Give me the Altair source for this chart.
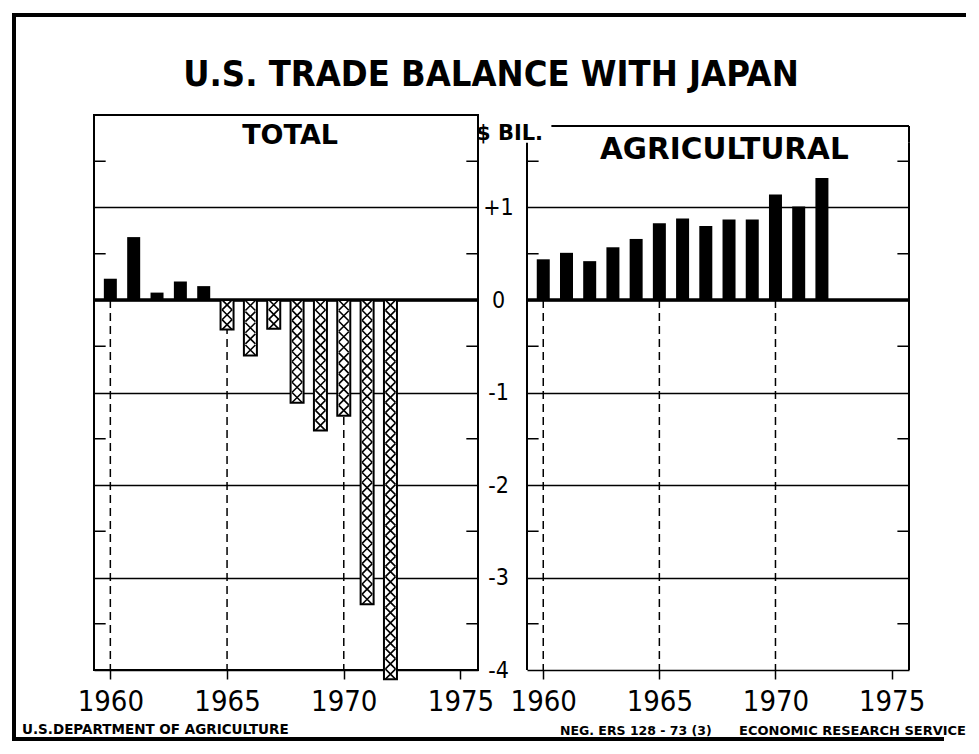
import altair as alt
import pandas as pd

# ---------------- data ----------------
years = list(range(1960, 1973))
total_balance = [0.23, 0.68, 0.08, 0.20, 0.15, -0.32, -0.60, -0.31, -1.11, -1.41, -1.25, -3.29, -4.10]
agri_balance = [0.44, 0.51, 0.42, 0.57, 0.66, 0.83, 0.88, 0.80, 0.87, 0.87, 1.14, 1.01, 1.32]
year_ticks = [1960, 1965, 1970, 1975]
dashed_years = [1960, 1965, 1970]
value_ticks = [-4, -3, -2, -1, 0, 1]
half_ticks = [-3.5, -2.5, -1.5, -0.5, 0.5, 1.5]
panel_titles = ["TOTAL", "AGRICULTURAL"]
chart_title = "U.S. TRADE BALANCE WITH JAPAN"
unit_label = "$ BIL."
footer_left = "U.S.DEPARTMENT OF AGRICULTURE"
footer_neg = "NEG. ERS 128 - 73 (3)"
footer_right = "ECONOMIC RESEARCH SERVICE"

X_DOMAIN = [1959.3, 1975.75]
Y_DOMAIN = [-4, 2]
W_LEFT, W_RIGHT, H = 384, 382, 555
RIGHT_TOP = 1.88        # top edge of the right panel frame (it sits a little lower)
RIGHT_LEFT_TOP = 1.7    # left edge of the right panel stops below "BIL."
RIGHT_TOP_START = 1960.35

NARROW = "DejaVu Sans Condensed, DejaVu Sans, sans-serif"
BOLD = "DejaVu Sans"

total_df = pd.DataFrame({"year": years, "value": total_balance})
agri_df = pd.DataFrame({"year": years, "value": agri_balance})
dash_df = pd.DataFrame({"year": dashed_years})
half_df = pd.DataFrame({
    "y": half_ticks * 2,
    "x1": [X_DOMAIN[0]] * len(half_ticks) + [X_DOMAIN[1] - 0.5] * len(half_ticks),
    "x2": [X_DOMAIN[0] + 0.5] * len(half_ticks) + [X_DOMAIN[1]] * len(half_ticks),
})
one = pd.DataFrame({"k": [0]})

xscale = alt.Scale(domain=X_DOMAIN, nice=False, zero=False, padding=0)
yscale = alt.Scale(domain=Y_DOMAIN, nice=False, zero=False, padding=0)

x_axis = alt.Axis(values=year_ticks, format="d", title=None, grid=False, domain=False,
                  tickSize=9, tickWidth=1.5, tickColor="black",
                  labelFont=NARROW, labelFontSize=29, labelColor="black",
                  labelPadding=8, labelFlush=False, labelOverlap=False)

y_axis_left = alt.Axis(orient="right", values=value_ticks, title=unit_label,
                       grid=True, gridColor="black", gridWidth=1.5, gridOpacity=1,
                       ticks=False, domain=False,
                       labelExpr="datum.value > 0 ? '+' + datum.value : '' + datum.value",
                       labelFont=NARROW, labelFontSize=23, labelColor="black",
                       labelAlign="center", labelPadding=20, labelFlush=False,
                       titleAngle=0, titleAlign="center", titleBaseline="alphabetic",
                       titleX=31, titleY=24, titleFont=BOLD, titleFontSize=21,
                       titleFontWeight="bold", titleColor="black")

y_axis_right = alt.Axis(orient="left", values=value_ticks, title=None, labels=False,
                        grid=True, gridColor="black", gridWidth=1.5, gridOpacity=1,
                        ticks=False, domain=False)


def panel(df, yaxis, title_text, title_x, title_y, title_size, hatched):
    X = alt.X("year:Q", scale=xscale, axis=x_axis)
    Y = alt.Y("value:Q", scale=yscale, axis=yaxis)

    bars_pos = alt.Chart(df).transform_filter("datum.value > 0").mark_bar(
        size=13, color="black").encode(x=X, y=Y, y2=alt.datum(0))
    zero = alt.Chart(one).mark_rule(color="black", strokeWidth=3.5).encode(
        y=alt.datum(0))
    dashes = alt.Chart(dash_df).mark_rule(color="black", strokeWidth=1.5, strokeDash=[8, 5]).encode(
        x="year:Q", y=alt.datum(0), y2=alt.datum(Y_DOMAIN[0]))
    minor = alt.Chart(half_df).mark_rule(color="black", strokeWidth=1.5).encode(
        x="x1:Q", x2="x2:Q", y="y:Q")

    layers = [bars_pos, zero, dashes, minor]
    if hatched:
        neg = alt.Chart(df).transform_filter("datum.value < 0").mark_bar(
            size=13, fill="white", stroke="black", strokeWidth=2).encode(
            x="year:Q", y="value:Q", y2=alt.datum(0))
        hatch = (alt.Chart(df)
                 .transform_filter("datum.value < 0")
                 .transform_calculate(n="max(1, round(-datum.value / 0.11))")
                 .transform_calculate(k="sequence(0, datum.n)")
                 .transform_flatten(["k"])
                 .transform_calculate(yc="datum.value * (datum.k + 0.5) / datum.n")
                 .mark_point(shape="M-1,-1L1,1M1,-1L-1,1", size=100, filled=False,
                             stroke="black", strokeWidth=1.6, opacity=1)
                 .encode(x="year:Q", y="yc:Q"))
        layers += [neg, hatch]
    else:
        edges = alt.Chart(pd.DataFrame({"xe": X_DOMAIN})).mark_rule(
            color="black", strokeWidth=2).encode(
            x="xe:Q", y=alt.datum(Y_DOMAIN[0]),
            y2=alt.datum(RIGHT_LEFT_TOP))
        right_edge_top = alt.Chart(one).mark_rule(color="black", strokeWidth=2).encode(
            x=alt.datum(X_DOMAIN[1]), y=alt.datum(RIGHT_LEFT_TOP), y2=alt.datum(RIGHT_TOP))
        top = alt.Chart(one).mark_rule(color="black", strokeWidth=2).encode(
            x=alt.datum(RIGHT_TOP_START), x2=alt.datum(X_DOMAIN[1]), y=alt.datum(RIGHT_TOP))
        layers += [edges, right_edge_top, top]

    label = alt.Chart(pd.DataFrame({"label": [title_text]})).mark_text(
        font=BOLD, fontWeight="bold", fontSize=title_size, color="black",
        baseline="middle", align="center").encode(
        x=alt.datum(title_x), y=alt.datum(title_y), text="label:N")
    layers.append(label)
    return layers


left_layers = panel(total_df, y_axis_left, panel_titles[0], 1967.7, 1.77, 27, True)
right_layers = panel(agri_df, y_axis_right, panel_titles[1], 1967.8, 1.62, 29.5, False)

ann = alt.Chart(one)
frame_top = ann.mark_rule(color="black", strokeWidth=4).encode(
    x=alt.value(-82), x2=alt.value(872), y=alt.value(-100))
frame_left = ann.mark_rule(color="black", strokeWidth=4).encode(
    x=alt.value(-80), y=alt.value(-102), y2=alt.value(624))
frame_bottom = ann.mark_rule(color="black", strokeWidth=4).encode(
    x=alt.value(-82), x2=alt.value(850), y=alt.value(624))
title = alt.Chart(pd.DataFrame({"t": [chart_title]})).mark_text(
    font=NARROW, fontWeight="bold",
    fontSize=36, color="black", align="center", baseline="alphabetic").encode(
    x=alt.value(397), y=alt.value(-29), text="t:N")
f1 = alt.Chart(pd.DataFrame({"t": [footer_left]})).mark_text(
    font=BOLD, fontWeight="bold", fontSize=13.5, color="black", align="left",
    baseline="alphabetic").encode(x=alt.value(-72), y=alt.value(619), text="t:N")
f2 = alt.Chart(pd.DataFrame({"t": [footer_neg]})).mark_text(
    font=BOLD, fontWeight="bold", fontSize=12.5, color="black", align="left",
    baseline="alphabetic").encode(x=alt.value(466), y=alt.value(620), text="t:N")
f3 = alt.Chart(pd.DataFrame({"t": [footer_right]})).mark_text(
    font=BOLD, fontWeight="bold", fontSize=13, color="black", align="right",
    baseline="alphabetic").encode(x=alt.value(872), y=alt.value(620), text="t:N")

left = alt.layer(*left_layers, frame_top, frame_left, frame_bottom, title, f1, f2, f3).properties(
    width=W_LEFT, height=H)
right = alt.layer(*right_layers).properties(
    width=W_RIGHT, height=H, view=alt.ViewBackground(strokeOpacity=0))

chart = (alt.hconcat(left, right, spacing=49, bounds="flush")
         .properties(padding={"left": 1, "top": 2, "right": 0, "bottom": 0})
         .configure_view(stroke="black", strokeWidth=2))

chart.save("out.html", embed_options={"renderer": "svg", "actions": False})
